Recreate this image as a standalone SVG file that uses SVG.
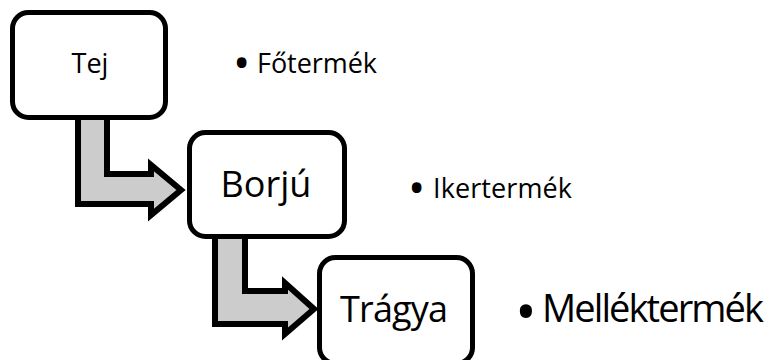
<svg xmlns="http://www.w3.org/2000/svg" width="768" height="360" viewBox="0 0 768 360">
<style>
.box{fill:#fff;stroke:#000;stroke-width:5}
.arr{fill:#ccc;stroke:#000;stroke-width:6;stroke-linejoin:miter}
.t{font-family:"Open Sans","Noto Sans",sans-serif;fill:#000}
</style>
<rect width="768" height="360" fill="#fff"/>
<g id="connectors">
<path class="arr" d="M78,100 L78,204 L151,204 L151,215 L181,190 L151,165 L151,174 L107,174 L107,100 Z"/>
<path class="arr" d="M215,220 L215,324 L285,324 L285,334 L314,309 L285,283 L285,291 L245,291 L245,220 Z"/>
</g>
<g id="tej">
<rect class="box" x="12.5" y="12.5" width="153" height="105" rx="16"/>
<text class="t" x="90" y="73" font-size="27" text-anchor="middle">Tej</text>
</g>
<g id="borju">
<rect class="box" x="189.5" y="132.5" width="155" height="104" rx="16"/>
<text class="t" x="266" y="197" font-size="36" text-anchor="middle">Borjú</text>
</g>
<g id="tragya">
<rect class="box" x="319.5" y="257.5" width="153" height="106" rx="16"/>
<text class="t" x="394" y="322" font-size="36" text-anchor="middle" textLength="108">Trágya</text>
</g>
<g id="labels">
<text class="t" font-size="46" x="233" y="79">•</text>
<text class="t" font-size="27" x="257" y="73" textLength="120">Főtermék</text>
<text class="t" font-size="46" x="408" y="204">•</text>
<text class="t" font-size="27" x="433" y="198" textLength="139">Ikertermék</text>
<text class="t" font-size="58" x="515" y="333">•</text>
<text class="t" font-size="38" x="542" y="322" textLength="222">Melléktermék</text>
</g>
</svg>
